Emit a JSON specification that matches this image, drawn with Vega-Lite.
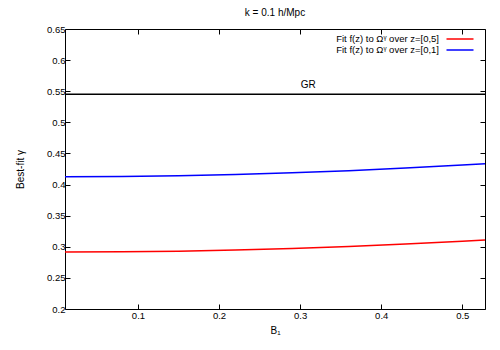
{
  "$schema": "https://vega.github.io/schema/vega-lite/v6.json",
  "width": 420,
  "height": 280,
  "autosize": {"type": "none"},
  "padding": {"left": 65, "top": 29, "right": 15, "bottom": 41},
  "background": "white",
  "config": {
    "font": "Liberation Sans",
    "view": {"stroke": "#000", "strokeWidth": 1},
    "axis": {"grid": false, "domain": false, "tickColor": "#000", "tickSize": -5, "labelFontSize": 9.5, "labelColor": "#000", "titleFontSize": 10, "titleFontWeight": "normal", "titleColor": "#000", "labelFont": "Liberation Sans", "titleFont": "Liberation Sans"},
    "title": {"fontSize": 10, "fontWeight": "normal", "font": "Liberation Sans", "color": "#000"}
  },
  "title": {"text": "k = 0.1 h/Mpc", "anchor": "middle", "offset": 6},
  "datasets": {
    "curves": [
      {"B": 0.01, "gamma": 0.4127, "series": "Fit f(z) to Ωᵞ over z=[0,1]"},
      {"B": 0.08, "gamma": 0.4131, "series": "Fit f(z) to Ωᵞ over z=[0,1]"},
      {"B": 0.15, "gamma": 0.4142, "series": "Fit f(z) to Ωᵞ over z=[0,1]"},
      {"B": 0.22, "gamma": 0.4161, "series": "Fit f(z) to Ωᵞ over z=[0,1]"},
      {"B": 0.29, "gamma": 0.4188, "series": "Fit f(z) to Ωᵞ over z=[0,1]"},
      {"B": 0.36, "gamma": 0.4223, "series": "Fit f(z) to Ωᵞ over z=[0,1]"},
      {"B": 0.43, "gamma": 0.4265, "series": "Fit f(z) to Ωᵞ over z=[0,1]"},
      {"B": 0.50, "gamma": 0.4314, "series": "Fit f(z) to Ωᵞ over z=[0,1]"},
      {"B": 0.528, "gamma": 0.4336, "series": "Fit f(z) to Ωᵞ over z=[0,1]"},
      {"B": 0.01, "gamma": 0.2916, "series": "Fit f(z) to Ωᵞ over z=[0,5]"},
      {"B": 0.08, "gamma": 0.2920, "series": "Fit f(z) to Ωᵞ over z=[0,5]"},
      {"B": 0.15, "gamma": 0.2930, "series": "Fit f(z) to Ωᵞ over z=[0,5]"},
      {"B": 0.22, "gamma": 0.2948, "series": "Fit f(z) to Ωᵞ over z=[0,5]"},
      {"B": 0.29, "gamma": 0.2973, "series": "Fit f(z) to Ωᵞ over z=[0,5]"},
      {"B": 0.36, "gamma": 0.3005, "series": "Fit f(z) to Ωᵞ over z=[0,5]"},
      {"B": 0.43, "gamma": 0.3044, "series": "Fit f(z) to Ωᵞ over z=[0,5]"},
      {"B": 0.50, "gamma": 0.3090, "series": "Fit f(z) to Ωᵞ over z=[0,5]"},
      {"B": 0.528, "gamma": 0.3110, "series": "Fit f(z) to Ωᵞ over z=[0,5]"}
    ],
    "gr": [{"B": 0.31, "gamma": 0.545, "labelGamma": 0.56, "label": "GR"}]
  },
  "resolve": {"axis": {"x": "independent", "y": "independent"}},
  "layer": [
    {
      "data": {"name": "curves"},
      "mark": {"type": "line", "strokeWidth": 1.5},
      "encoding": {
        "x": {"field": "B", "type": "quantitative", "scale": {"domain": [0.01, 0.528], "nice": false, "zero": false},
              "axis": {"values": [0.1, 0.2, 0.3, 0.4, 0.5], "format": ".1f", "title": "B₁", "labelPadding": 6, "titlePadding": 6}},
        "y": {"field": "gamma", "type": "quantitative", "scale": {"domain": [0.2, 0.65], "nice": false, "zero": false},
              "axis": {"values": [0.2, 0.25, 0.3, 0.35, 0.4, 0.45, 0.5, 0.55, 0.6, 0.65], "format": ".2~f", "title": "Best-fit γ", "labelPadding": 5, "titlePadding": 21}},
        "color": {"field": "series", "type": "nominal",
                  "scale": {"domain": ["Fit f(z) to Ωᵞ over z=[0,5]", "Fit f(z) to Ωᵞ over z=[0,1]"], "range": ["#ff0000", "#0000ff"]},
                  "legend": {"title": null, "orient": "none", "legendX": 389, "legendY": 4, "symbolType": "M-2.7,0H2.7", "symbolSize": 100, "symbolStrokeWidth": 1.5, "labelAlign": "right", "labelOffset": -27, "labelFontSize": 9.5, "labelColor": "#000", "rowPadding": -2, "labelFont": "Liberation Sans"}}
      }
    },
    {
      "data": {"name": "gr"},
      "mark": {"type": "rule", "color": "#000", "strokeWidth": 1.5},
      "encoding": {"y": {"field": "gamma", "type": "quantitative", "axis": null}}
    },
    {
      "data": {"name": "gr"},
      "mark": {"type": "text", "fontSize": 10, "color": "#000", "font": "Liberation Sans"},
      "encoding": {
        "x": {"field": "B", "type": "quantitative", "axis": null},
        "y": {"field": "labelGamma", "type": "quantitative", "axis": null},
        "text": {"field": "label"}
      }
    },
    {
      "data": {"name": "curves"},
      "mark": {"type": "point", "opacity": 0},
      "encoding": {
        "x": {"field": "B", "type": "quantitative", "axis": {"orient": "top", "values": [0.1, 0.2, 0.3, 0.4, 0.5], "labels": false, "title": null}},
        "y": {"field": "gamma", "type": "quantitative", "axis": {"orient": "right", "values": [0.2, 0.25, 0.3, 0.35, 0.4, 0.45, 0.5, 0.55, 0.6, 0.65], "labels": false, "title": null}}
      }
    }
  ]
}
